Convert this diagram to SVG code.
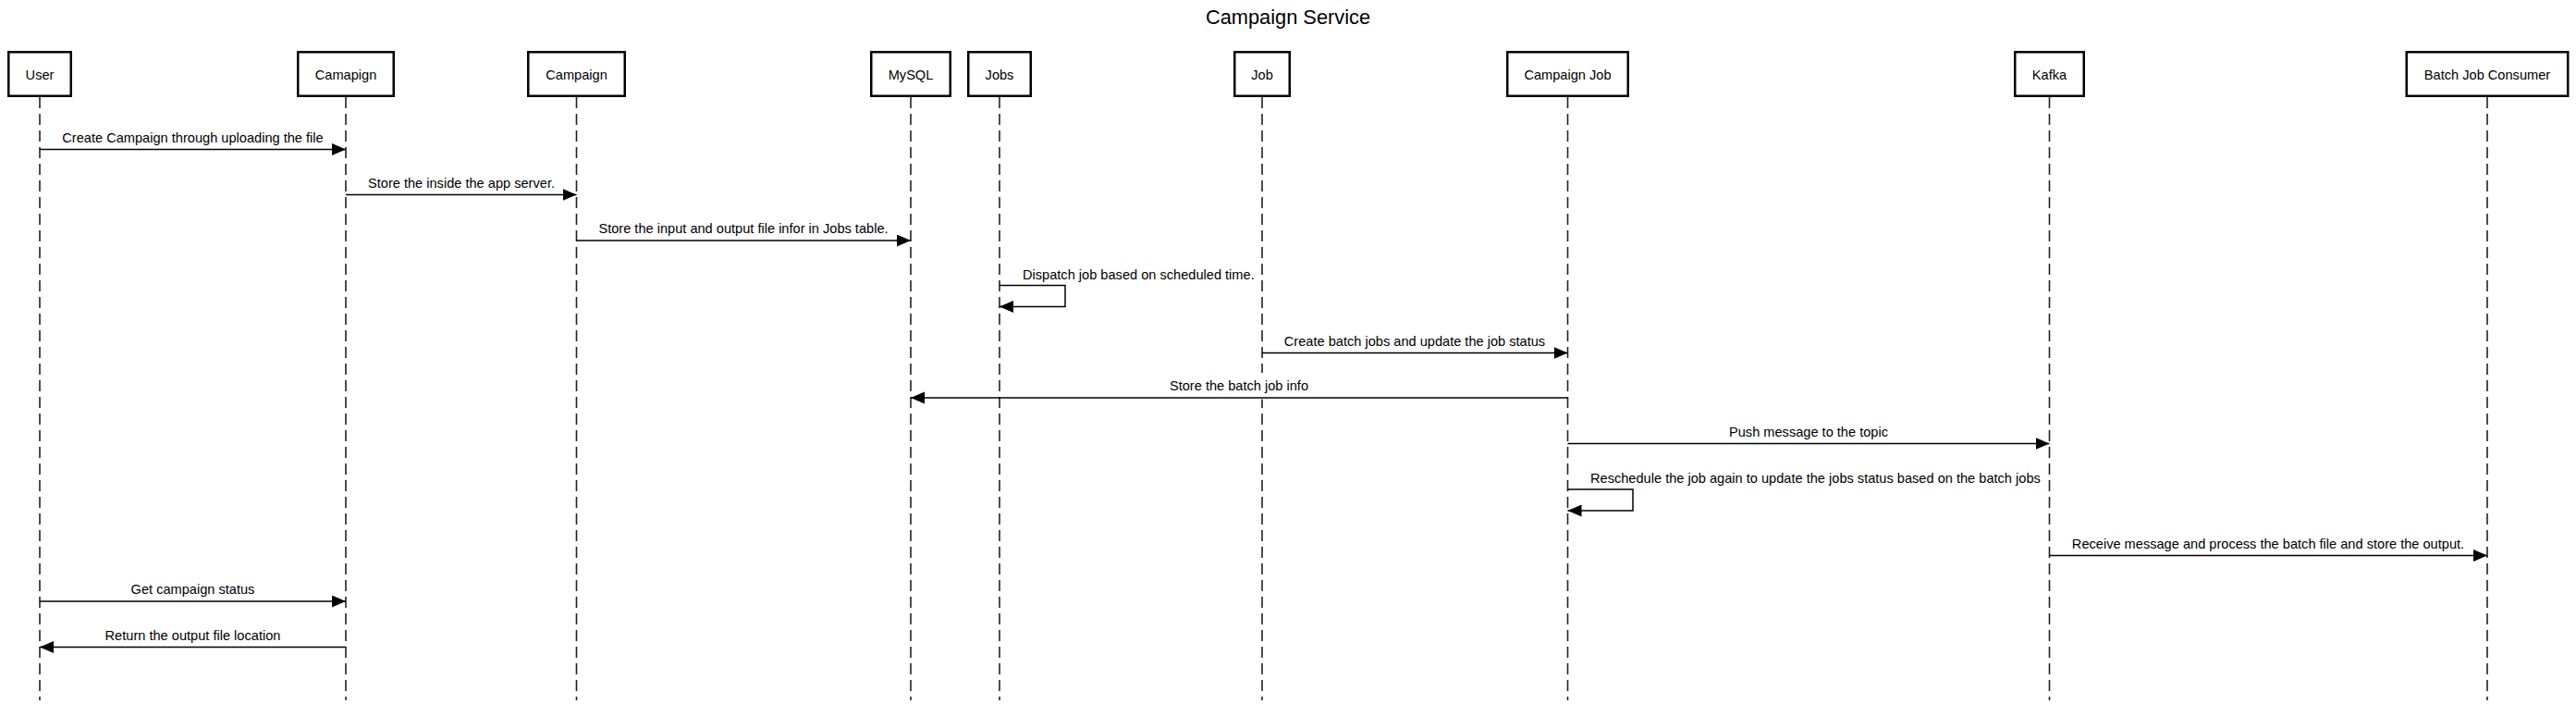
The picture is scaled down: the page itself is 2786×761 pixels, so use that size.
<svg xmlns="http://www.w3.org/2000/svg" width="2786" height="761" viewBox="0 0 2786 761">
<style>
  text { font-family: "Liberation Sans", Arial, Helvetica, sans-serif; fill: #000; }
  .title { font-size: 21.8px; text-anchor: middle; }
  .pl { font-size: 14.6px; text-anchor: middle; }
  .ml { font-size: 14.6px; text-anchor: middle; }
  .sl { font-size: 14.6px; text-anchor: start; }
  .box { fill: #fff; stroke: #000; stroke-width: 2.5; }
  .life { stroke: #222; stroke-width: 1.6; stroke-dasharray: 12 6; fill: none; }
  .msg { stroke: #000; stroke-width: 1.5; fill: none; marker-end: url(#ah); }
  .lbg { fill: #fff; stroke: none; }
</style>
<defs>
  <marker id="ah" markerUnits="userSpaceOnUse" markerWidth="16" markerHeight="14" refX="15" refY="6.5" orient="auto">
    <path d="M0,0 L15,6.5 L0,13 Z" fill="#000"/>
  </marker>
</defs>
<rect width="2786" height="761" fill="#fff"/>
<text class="title" x="1393" y="26">Campaign Service</text>

<g id="lifelines">
  <line class="life" x1="43" y1="105" x2="43" y2="757"/>
  <line class="life" x1="374" y1="105" x2="374" y2="757"/>
  <line class="life" x1="623.5" y1="105" x2="623.5" y2="757"/>
  <line class="life" x1="985" y1="105" x2="985" y2="757"/>
  <line class="life" x1="1081" y1="105" x2="1081" y2="757"/>
  <line class="life" x1="1365" y1="105" x2="1365" y2="757"/>
  <line class="life" x1="1695.5" y1="105" x2="1695.5" y2="757"/>
  <line class="life" x1="2216.5" y1="105" x2="2216.5" y2="757"/>
  <line class="life" x1="2690" y1="105" x2="2690" y2="757"/>
</g>

<g id="user"><rect class="box" x="9.25" y="56.25" width="67.5" height="47.5"/><text class="pl" x="43" y="85.5">User</text></g>
<g id="camapign"><rect class="box" x="322.25" y="56.25" width="103.5" height="47.5"/><text class="pl" x="374" y="85.5">Camapign</text></g>
<g id="campaign"><rect class="box" x="571.25" y="56.25" width="104.5" height="47.5"/><text class="pl" x="623.5" y="85.5">Campaign</text></g>
<g id="mysql"><rect class="box" x="942.25" y="56.25" width="85.5" height="47.5"/><text class="pl" x="985" y="85.5">MySQL</text></g>
<g id="jobs"><rect class="box" x="1047.25" y="56.25" width="67.5" height="47.5"/><text class="pl" x="1081" y="85.5">Jobs</text></g>
<g id="job"><rect class="box" x="1335.25" y="56.25" width="59.5" height="47.5"/><text class="pl" x="1365" y="85.5">Job</text></g>
<g id="campaign-job"><rect class="box" x="1630.25" y="56.25" width="130.5" height="47.5"/><text class="pl" x="1695.5" y="85.5">Campaign Job</text></g>
<g id="kafka"><rect class="box" x="2179.25" y="56.25" width="74.5" height="47.5"/><text class="pl" x="2216.5" y="85.5">Kafka</text></g>
<g id="batch-job-consumer"><rect class="box" x="2602.75" y="56.25" width="174.5" height="47.5"/><text class="pl" x="2690" y="85.5">Batch Job Consumer</text></g>

<g id="connectors">
  <line class="msg" x1="43" y1="161.5" x2="374" y2="161.5"/>
  <text class="ml" x="208.5" y="153.5">Create Campaign through uploading the file</text>

  <line class="msg" x1="374" y1="210.5" x2="623.5" y2="210.5"/>
  <text class="ml" x="499" y="202.5">Store the inside the app server.</text>

  <line class="msg" x1="623.5" y1="260" x2="985" y2="260"/>
  <text class="ml" x="804" y="252">Store the input and output file infor in Jobs table.</text>

  <path class="msg" d="M1081,308.5 H1152 V331.5 H1081"/>
  <text class="sl" x="1106" y="302">Dispatch job based on scheduled time.</text>

  <line class="msg" x1="1365" y1="381.5" x2="1695.5" y2="381.5"/>
  <text class="ml" x="1530" y="373.5">Create batch jobs and update the job status</text>

  <rect class="lbg" x="1261" y="403" width="158" height="28.5"/>
  <line class="msg" x1="1695.5" y1="430" x2="985" y2="430"/>
  <text class="ml" x="1340" y="422">Store the batch job info</text>

  <line class="msg" x1="1695.5" y1="479.5" x2="2216.5" y2="479.5"/>
  <text class="ml" x="1956" y="471.5">Push message to the topic</text>

  <path class="msg" d="M1695.5,529 H1766 V552 H1695.5"/>
  <text class="sl" x="1720" y="522">Reschedule the job again to update the jobs status based on the batch jobs</text>

  <line class="msg" x1="2216.5" y1="600.5" x2="2690" y2="600.5"/>
  <text class="ml" x="2453" y="592.5">Receive message and process the batch file and store the output.</text>

  <line class="msg" x1="43" y1="650" x2="374" y2="650"/>
  <text class="ml" x="208.5" y="642">Get campaign status</text>

  <line class="msg" x1="374" y1="699.5" x2="43" y2="699.5"/>
  <text class="ml" x="208.5" y="691.5">Return the output file location</text>
</g>
</svg>
